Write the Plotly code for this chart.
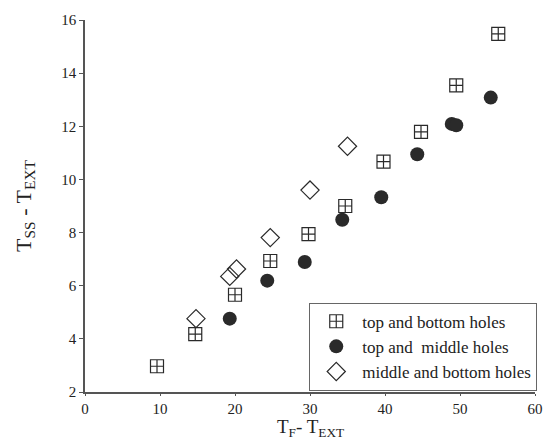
import plotly.graph_objects as go

# top and bottom holes
tb_x = [9.6, 14.7, 20.0, 24.7, 29.8, 34.7, 39.8, 44.8, 49.5, 55.1]
tb_y = [2.97, 4.18, 5.66, 6.93, 7.94, 9.0, 10.67, 11.79, 13.54, 15.48]
# top and middle holes
tm_x = [19.3, 24.3, 29.3, 34.3, 39.5, 44.3, 48.9, 49.5, 54.1]
tm_y = [4.76, 6.19, 6.89, 8.48, 9.33, 10.95, 12.09, 12.04, 13.08]
# middle and bottom holes
mb_x = [14.8, 19.3, 20.2, 24.7, 30.0, 35.0]
mb_y = [4.76, 6.35, 6.63, 7.81, 9.6, 11.25]

x_ticks = [0, 10, 20, 30, 40, 50, 60]
y_ticks = [2, 4, 6, 8, 10, 12, 14, 16]

serif = "Liberation Serif"
ink = "#2a2a2a"

fig = go.Figure()
fig.add_trace(go.Scatter(
    x=tb_x, y=tb_y, mode="markers", name="top and bottom holes",
    marker=dict(symbol="square-cross-open", size=13, color=ink, line=dict(width=1.2, color=ink)),
    cliponaxis=False))
fig.add_trace(go.Scatter(
    x=tm_x, y=tm_y, mode="markers", name="top and  middle holes",
    marker=dict(symbol="circle", size=14, color=ink, line=dict(width=0))),
)
fig.add_trace(go.Scatter(
    x=mb_x, y=mb_y, mode="markers", name="middle and bottom holes",
    marker=dict(symbol="diamond-open", size=14, color=ink, line=dict(width=1.2, color=ink))))

fig.update_layout(
    width=545, height=442,
    margin=dict(l=85, r=8, t=20, b=50),
    paper_bgcolor="white", plot_bgcolor="white",
    font=dict(family=serif, color="#222", size=16),
    showlegend=True,
    legend=dict(
        x=1.005, xanchor="right", y=0.24, yanchor="top",
        bordercolor="#666", borderwidth=1, bgcolor="white",
        font=dict(family=serif, size=17, color="#222"),
        tracegroupgap=0, itemwidth=42,
    ),
    xaxis=dict(
        range=[0, 60], tickvals=x_ticks, ticks="outside", ticklen=2, tickwidth=1,
        tickcolor="#555", showline=True, linecolor="#555", linewidth=1.5,
        showgrid=False, zeroline=False, automargin=False,
        tickfont=dict(family=serif, size=15, color="#222"),
    ),
    yaxis=dict(
        range=[2, 16], tickvals=y_ticks, ticks="outside", ticklen=4, tickwidth=1,
        tickcolor="#555", showline=True, linecolor="#555", linewidth=1.5,
        showgrid=False, zeroline=False, automargin=False,
        tickfont=dict(family=serif, size=15, color="#222"),
        title=dict(text="T<sub>SS</sub> - T<sub>EXT</sub>", font=dict(family=serif, size=22, color="#222"), standoff=24),
    ),
    annotations=[dict(
        text="T<sub>F</sub>- T<sub>EXT</sub>", xref="paper", yref="paper",
        x=0.5, y=-0.1345, xanchor="center", yanchor="bottom", showarrow=False,
        font=dict(family=serif, size=19, color="#222"),
    )],
)

fig.write_html("out.html")
